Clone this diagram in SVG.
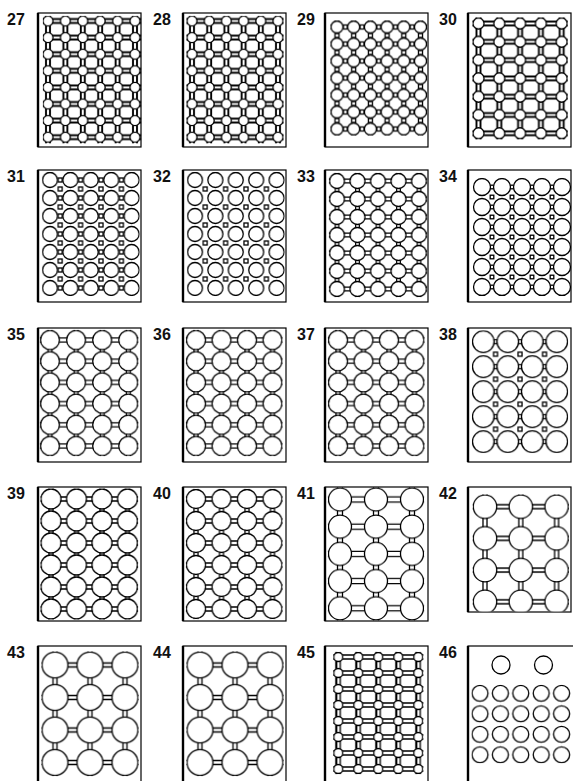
<svg xmlns="http://www.w3.org/2000/svg" width="573" height="781" viewBox="0 0 573 781">
<style>
.fr{fill:#fff;stroke:#000;stroke-width:1.2}
.fl{stroke:#000;stroke-width:2.4}
.lb{font-family:"Liberation Sans",Arial,sans-serif;font-size:16px;font-weight:bold;fill:#111}
.c{fill:#fff;stroke:#000;stroke-width:1.3}
.ln{fill:none;stroke:#000;stroke-width:1.3}
.hv{fill:none;stroke:#000;stroke-width:1.9}
.sq{fill:#fff;stroke:#000;stroke-width:1.3}
</style>
<defs>
<pattern id="p27" patternUnits="userSpaceOnUse" x="39.3" y="12.7" width="17.4" height="16.6"><path class="hv" d="M0 6.3H17.4M0 10.3H17.4M6.7 0V16.6M10.7 0V16.6"/><circle class="c" cx="8.7" cy="8.3" r="5"/></pattern>
<pattern id="p28" patternUnits="userSpaceOnUse" x="183.4" y="12.7" width="17.2" height="16.6"><path class="hv" d="M0 6.3H17.2M0 10.3H17.2M6.6 0V16.6M10.6 0V16.6"/><circle class="c" cx="8.6" cy="8.3" r="5"/></pattern>
<pattern id="p29" patternUnits="userSpaceOnUse" x="328.65" y="18.5" width="16.7" height="17"><rect class="sq" x="-2" y="6.5" width="4" height="4"/><rect class="sq" x="14.7" y="6.5" width="4" height="4"/><rect class="sq" x="6.35" y="-2" width="4" height="4"/><rect class="sq" x="6.35" y="15" width="4" height="4"/><circle class="c" cx="8.35" cy="8.5" r="6"/></pattern>
<pattern id="p30" patternUnits="userSpaceOnUse" x="468.1" y="14.35" width="20.8" height="18.3"><path class="hv" d="M0 7.15H20.8M0 11.15H20.8M8.4 0V18.3M12.4 0V18.3"/><circle class="c" cx="10.4" cy="9.15" r="5.5"/></pattern>
<pattern id="p31s" patternUnits="userSpaceOnUse" x="39.8" y="171" width="20.4" height="18"><rect class="sq" x="-2" y="-2" width="4" height="4"/><rect class="sq" x="18.4" y="-2" width="4" height="4"/><rect class="sq" x="-2" y="16" width="4" height="4"/><rect class="sq" x="18.4" y="16" width="4" height="4"/><rect class="sq" x="-2" y="7" width="4" height="4"/><rect class="sq" x="18.4" y="7" width="4" height="4"/></pattern>
<pattern id="p31c" patternUnits="userSpaceOnUse" x="39.8" y="171" width="20.4" height="18"><circle class="c" cx="10.2" cy="9" r="7.5"/></pattern>
<pattern id="p32s" patternUnits="userSpaceOnUse" x="184.8" y="171" width="20.4" height="18"><rect class="sq" x="-2" y="-2" width="4" height="4"/><rect class="sq" x="18.4" y="-2" width="4" height="4"/><rect class="sq" x="-2" y="16" width="4" height="4"/><rect class="sq" x="18.4" y="16" width="4" height="4"/></pattern>
<pattern id="p32c" patternUnits="userSpaceOnUse" x="184.8" y="171" width="20.4" height="18"><circle class="c" cx="10.2" cy="9" r="7.5"/></pattern>
<pattern id="p33" patternUnits="userSpaceOnUse" x="326.75" y="172" width="20.5" height="18"><path class="ln" d="M0 7.2H20.5M0 10.8H20.5M8.45 0V18M12.05 0V18"/><circle class="c" cx="10.25" cy="9" r="7.5"/></pattern>
<pattern id="p34s" patternUnits="userSpaceOnUse" x="472" y="177" width="20" height="20"><rect class="sq" x="-1.8" y="-1.8" width="3.6" height="3.6"/><rect class="sq" x="18.2" y="-1.8" width="3.6" height="3.6"/><rect class="sq" x="-1.8" y="18.2" width="3.6" height="3.6"/><rect class="sq" x="18.2" y="18.2" width="3.6" height="3.6"/><rect class="sq" x="-1.8" y="8.2" width="3.6" height="3.6"/><rect class="sq" x="18.2" y="8.2" width="3.6" height="3.6"/></pattern>
<pattern id="p34c" patternUnits="userSpaceOnUse" x="472" y="177" width="20" height="20"><circle class="c" cx="10" cy="10" r="8.5"/></pattern>
<pattern id="p35" patternUnits="userSpaceOnUse" x="36.95" y="329.4" width="26.1" height="21.2"><path class="ln" d="M0 8.6H26.1M0 12.6H26.1M11.05 0V21.2M15.05 0V21.2"/><circle class="c" cx="13.05" cy="10.6" r="9.5"/></pattern>
<pattern id="p36" patternUnits="userSpaceOnUse" x="183.25" y="329.4" width="25.5" height="21.2"><path class="ln" d="M0 8.6H25.5M0 12.6H25.5M10.75 0V21.2M14.75 0V21.2"/><circle class="c" cx="12.75" cy="10.6" r="9.5"/></pattern>
<pattern id="p37" patternUnits="userSpaceOnUse" x="325.25" y="329.4" width="25.5" height="21.2"><path class="ln" d="M0 8.6H25.5M0 12.6H25.5M10.75 0V21.2M14.75 0V21.2"/><circle class="c" cx="12.75" cy="10.6" r="9.5"/></pattern>
<pattern id="p38s" patternUnits="userSpaceOnUse" x="471.05" y="329.2" width="24.5" height="25"><rect class="sq" x="-2" y="-2" width="4" height="4"/><rect class="sq" x="22.5" y="-2" width="4" height="4"/><rect class="sq" x="-2" y="23" width="4" height="4"/><rect class="sq" x="22.5" y="23" width="4" height="4"/><rect class="sq" x="-2" y="10.5" width="4" height="4"/><rect class="sq" x="22.5" y="10.5" width="4" height="4"/></pattern>
<pattern id="p38c" patternUnits="userSpaceOnUse" x="471.05" y="329.2" width="24.5" height="25"><circle class="c" cx="12.25" cy="12.5" r="10.8"/></pattern>
<pattern id="p39" patternUnits="userSpaceOnUse" x="38.25" y="488" width="25.5" height="22"><path class="ln" d="M0 9H25.5M0 13H25.5M10.75 0V22M14.75 0V22"/><circle class="c" cx="12.75" cy="11" r="10"/></pattern>
<pattern id="p40" patternUnits="userSpaceOnUse" x="183.25" y="488" width="25.5" height="22"><path class="ln" d="M0 9H25.5M0 13H25.5M10.75 0V22M14.75 0V22"/><circle class="c" cx="12.75" cy="11" r="9.5"/></pattern>
<pattern id="p41" patternUnits="userSpaceOnUse" x="322" y="485.9" width="36" height="27.2"><path class="ln" d="M0 11.1H36M0 16.1H36M15.5 0V27.2M20.5 0V27.2"/><circle class="c" cx="18" cy="13.6" r="11.5"/></pattern>
<pattern id="p42" patternUnits="userSpaceOnUse" x="467.1" y="490.85" width="35.8" height="31.7"><path class="ln" d="M0 13.85H35.8M0 17.85H35.8M15.9 0V31.7M19.9 0V31.7"/><circle class="c" cx="17.9" cy="15.85" r="11.7"/></pattern>
<pattern id="p43" patternUnits="userSpaceOnUse" x="37.5" y="648.75" width="35" height="32.5"><path class="ln" d="M0 14.25H35M0 18.25H35M15.5 0V32.5M19.5 0V32.5"/><circle class="c" cx="17.5" cy="16.25" r="13"/></pattern>
<pattern id="p44" patternUnits="userSpaceOnUse" x="182.5" y="648.75" width="35" height="32.5"><path class="ln" d="M0 14.25H35M0 18.25H35M15.5 0V32.5M19.5 0V32.5"/><circle class="c" cx="17.5" cy="16.25" r="13"/></pattern>
<pattern id="p45" patternUnits="userSpaceOnUse" x="328.3" y="649" width="20" height="16"><path class="ln" d="M0 6H20M0 10H20M12 0V16"/><path class="hv" style="stroke-width:2.2" d="M8 0V16"/><circle class="c" cx="10" cy="8" r="4.5"/></pattern>
<pattern id="p46" patternUnits="userSpaceOnUse" x="469.8" y="683.05" width="20.4" height="20.5"><circle class="c" cx="10.2" cy="10.25" r="8"/></pattern>
</defs>

<g id="panel-27"><rect class="fr" x="38" y="13" width="103" height="134"/><line class="fl" x1="38" y1="13" x2="38" y2="147"/><text class="lb" x="7" y="25">27</text><rect x="42.9" y="15.9" width="98.2" height="127.4" fill="url(#p27)"/></g>
<g id="panel-28"><rect class="fr" x="183" y="13" width="103" height="134"/><line class="fl" x1="183" y1="13" x2="183" y2="147"/><text class="lb" x="153" y="25">28</text><rect x="186.4" y="15.9" width="97.2" height="127.4" fill="url(#p28)"/></g>
<g id="panel-29"><rect class="fr" x="325" y="13" width="103" height="134"/><line class="fl" x1="325" y1="13" x2="325" y2="147"/><text class="lb" x="297" y="25">29</text><rect x="330.4" y="20.4" width="96.7" height="115.2" fill="url(#p29)"/></g>
<g id="panel-30"><rect class="fr" x="468" y="13" width="103" height="134"/><line class="fl" x1="468" y1="13" x2="468" y2="147"/><text class="lb" x="439" y="25">30</text><rect x="472.4" y="17.4" width="95.4" height="122" fill="url(#p30)"/></g>

<g id="panel-31"><rect class="fr" x="38" y="170" width="103" height="132"/><line class="fl" x1="38" y1="170" x2="38" y2="302"/><text class="lb" x="7" y="182">31</text><rect x="50" y="177" width="81.6" height="114" fill="url(#p31s)"/><rect x="41.9" y="171.9" width="97.8" height="124.2" fill="url(#p31c)"/></g>
<g id="panel-32"><rect class="fr" x="183" y="170" width="103" height="132"/><line class="fl" x1="183" y1="170" x2="183" y2="302"/><text class="lb" x="153" y="182">32</text><rect x="195" y="180" width="81.6" height="108" fill="url(#p32s)"/><rect x="186.9" y="171.9" width="97.8" height="124.2" fill="url(#p32c)"/></g>
<g id="panel-33"><rect class="fr" x="325" y="170" width="103" height="132"/><line class="fl" x1="325" y1="170" x2="325" y2="302"/><text class="lb" x="297" y="182">33</text><rect x="328.9" y="172.9" width="98.2" height="124.2" fill="url(#p33)"/></g>
<g id="panel-34"><rect class="fr" x="468" y="170" width="103" height="132"/><line class="fl" x1="468" y1="170" x2="468" y2="302"/><text class="lb" x="439" y="182">34</text><rect x="482" y="184" width="80" height="106" fill="url(#p34s)"/><rect x="472.9" y="177.9" width="98.2" height="118.2" fill="url(#p34c)"/></g>

<g id="panel-35"><rect class="fr" x="38" y="328" width="103" height="134"/><line class="fl" x1="38" y1="328" x2="38" y2="462"/><text class="lb" x="7" y="340">35</text><rect x="39.9" y="329.9" width="98.5" height="126.2" fill="url(#p35)"/></g>
<g id="panel-36"><rect class="fr" x="183" y="328" width="103" height="134"/><line class="fl" x1="183" y1="328" x2="183" y2="462"/><text class="lb" x="153" y="340">36</text><rect x="185.9" y="329.9" width="96.7" height="126.2" fill="url(#p36)"/></g>
<g id="panel-37"><rect class="fr" x="325" y="328" width="103" height="134"/><line class="fl" x1="325" y1="328" x2="325" y2="462"/><text class="lb" x="297" y="340">37</text><rect x="327.9" y="329.9" width="96.7" height="126.2" fill="url(#p37)"/></g>
<g id="panel-38"><rect class="fr" x="468" y="328" width="103" height="134"/><line class="fl" x1="468" y1="328" x2="468" y2="462"/><text class="lb" x="439" y="340">38</text><rect x="483.3" y="338.7" width="73.5" height="106" fill="url(#p38s)"/><rect x="471.9" y="330.3" width="96.3" height="122.8" fill="url(#p38c)"/></g>

<g id="panel-39"><rect class="fr" x="38" y="487" width="103" height="134"/><line class="fl" x1="38" y1="487" x2="38" y2="621"/><text class="lb" x="7" y="499">39</text><rect x="40.4" y="488.4" width="97.7" height="131.2" fill="url(#p39)"/></g>
<g id="panel-40"><rect class="fr" x="183" y="487" width="103" height="134"/><line class="fl" x1="183" y1="487" x2="183" y2="621"/><text class="lb" x="153" y="499">40</text><rect x="185.9" y="488.9" width="96.7" height="130.2" fill="url(#p40)"/></g>
<g id="panel-41"><rect class="fr" x="325" y="487" width="103" height="134"/><line class="fl" x1="325" y1="487" x2="325" y2="621"/><text class="lb" x="297" y="499">41</text><rect x="327.9" y="487.4" width="96.2" height="133" fill="url(#p41)"/></g>
<g id="panel-42"><rect class="fr" x="468" y="487" width="103" height="125"/><line class="fl" x1="468" y1="487" x2="468" y2="612"/><text class="lb" x="439" y="499">42</text><rect x="472.7" y="494.4" width="96.2" height="117" fill="url(#p42)"/></g>

<g id="panel-43"><rect class="fr" x="38" y="646" width="103" height="137"/><line class="fl" x1="38" y1="646" x2="38" y2="783"/><text class="lb" x="7" y="658">43</text><rect x="41.4" y="651.4" width="97.2" height="124.7" fill="url(#p43)"/></g>
<g id="panel-44"><rect class="fr" x="183" y="646" width="103" height="137"/><line class="fl" x1="183" y1="646" x2="183" y2="783"/><text class="lb" x="153" y="658">44</text><rect x="186.4" y="651.4" width="97.2" height="124.7" fill="url(#p44)"/></g>
<g id="panel-45"><rect class="fr" x="325" y="646" width="103" height="137"/><line class="fl" x1="325" y1="646" x2="325" y2="783"/><text class="lb" x="297" y="658">45</text><rect x="333.2" y="651.9" width="90.2" height="122.2" fill="url(#p45)"/></g>
<g id="panel-46"><rect class="fr" x="468" y="646" width="110" height="137"/><line class="fl" x1="468" y1="646" x2="468" y2="783"/><text class="lb" x="439" y="658">46</text><circle class="c" cx="501" cy="665" r="9"/><circle class="c" cx="543.5" cy="665" r="9"/><rect x="471.4" y="684.7" width="99.8" height="78.7" fill="url(#p46)"/></g>
</svg>
